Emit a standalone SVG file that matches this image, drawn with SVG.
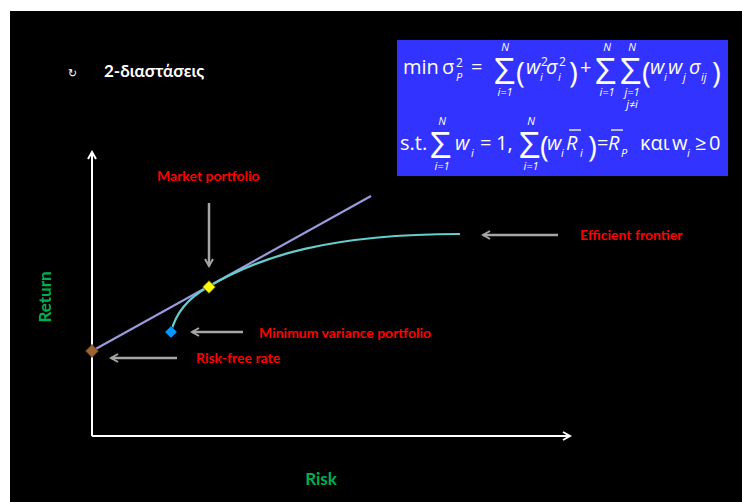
<svg xmlns="http://www.w3.org/2000/svg" width="742" height="502" viewBox="0 0 742 502">
<style>
.lbl{font-family:Lato,"Open Sans",sans-serif;font-weight:bold;font-size:14px;fill:#FF0000}
.ax{font-family:Lato,"Open Sans",sans-serif;font-weight:bold;font-size:17px;fill:#00B050}
.m{font-family:"Open Sans","Noto Sans",sans-serif;fill:#FFFFFF;font-size:20px}
.mi{font-family:"Open Sans","Noto Sans",sans-serif;fill:#FFFFFF;font-size:20px;font-style:italic}
.sub{font-family:"Open Sans","Noto Sans",sans-serif;fill:#FFFFFF;font-size:11px;font-style:italic}
.sup{font-family:"Open Sans","Noto Sans",sans-serif;fill:#FFFFFF;font-size:12px}
.big{font-family:"Open Sans","Noto Sans",sans-serif;fill:#FFFFFF;font-size:37px}
.par{font-family:"Open Sans","Noto Sans",sans-serif;fill:#FFFFFF;font-size:30px}
.lim{font-family:"Open Sans","Noto Sans",sans-serif;fill:#FFFFFF;font-size:11px;font-style:italic;text-anchor:middle}
.garr{stroke:#A6A6A6;stroke-width:2.5;fill:none;marker-end:url(#ga)}
</style>
<defs>
<marker id="ga" viewBox="0 0 10 10" refX="8" refY="5" markerWidth="4" markerHeight="4" orient="auto" markerUnits="strokeWidth">
<path d="M1,1 L8,5 L1,9" fill="none" stroke="#A6A6A6" stroke-width="2"/>
</marker>
<marker id="wa" viewBox="0 0 10 10" refX="8" refY="5" markerWidth="5" markerHeight="5" orient="auto" markerUnits="strokeWidth">
<path d="M1,1 L8,5 L1,9" fill="none" stroke="#FFFFFF" stroke-width="2"/>
</marker>
</defs>
<rect x="0" y="0" width="742" height="502" fill="#FFFFFF"/>
<rect x="10" y="11" width="732" height="491" fill="#000000"/>

<g id="title">
<text x="68" y="77" font-family="DejaVu Sans,sans-serif" font-size="11" fill="#FFFFFF">↻</text>
<text x="104" y="77" font-family="Lato,'Open Sans',sans-serif" font-weight="bold" font-size="17" fill="#FFFFFF">2-διαστάσεις</text>
</g>

<g id="formula">
<rect x="397" y="40" width="331" height="136" fill="#3333FF"/>
<text class="m" x="403" y="74">min</text>
<text class="m" x="442" y="74">σ</text>
<text class="sup" x="456" y="67">2</text>
<text class="sub" x="456" y="81">P</text>
<text class="m" x="471" y="74">=</text>
<text class="big" x="494" y="84">Σ</text>
<text class="lim" x="505" y="51">N</text>
<text class="lim" x="505" y="96">i=1</text>
<text class="par" x="516" y="83">(</text>
<text class="mi" x="526" y="74">w</text>
<text class="sup" x="541" y="66">2</text>
<text class="sub" x="540" y="81">i</text>
<text class="mi" x="546" y="74">σ</text>
<text class="sup" x="559" y="66">2</text>
<text class="sub" x="558" y="81">i</text>
<text class="par" x="569" y="83">)</text>
<text class="m" x="580" y="74">+</text>
<text class="big" x="595" y="84">Σ</text>
<text class="lim" x="607" y="51">N</text>
<text class="lim" x="607" y="96">i=1</text>
<text class="big" x="620" y="84">Σ</text>
<text class="lim" x="632" y="51">N</text>
<text class="lim" x="632" y="96">j=1</text>
<text class="lim" x="632" y="108">j≠i</text>
<text class="par" x="642" y="83">(</text>
<text class="mi" x="650" y="74">w</text>
<text class="sub" x="664" y="81">i</text>
<text class="mi" x="668" y="74">w</text>
<text class="sub" x="683" y="81">j</text>
<text class="mi" x="689" y="74">σ</text>
<text class="sub" x="701" y="81">ij</text>
<text class="par" x="712" y="83">)</text>

<text class="m" x="400" y="150">s.t.</text>
<text class="big" x="430" y="158">Σ</text>
<text class="lim" x="442" y="125">N</text>
<text class="lim" x="442" y="170">i=1</text>
<text class="mi" x="455" y="150">w</text>
<text class="sub" x="471" y="157">i</text>
<text class="m" x="480" y="150">=</text>
<text class="m" x="496" y="150">1,</text>
<text class="big" x="519" y="158">Σ</text>
<text class="lim" x="531" y="125">N</text>
<text class="lim" x="531" y="170">i=1</text>
<text class="par" x="540" y="157">(</text>
<text class="mi" x="547" y="150">w</text>
<text class="sub" x="561" y="157">i</text>
<text class="mi" x="566" y="150">R</text>
<line x1="569" y1="130" x2="581" y2="130" stroke="#FFFFFF" stroke-width="1.3"/>
<text class="sub" x="580" y="157">i</text>
<text class="par" x="588" y="157">)</text>
<text class="m" x="597" y="150">=</text>
<text class="mi" x="608" y="150">R</text>
<line x1="611" y1="130" x2="623" y2="130" stroke="#FFFFFF" stroke-width="1.3"/>
<text class="sub" x="621" y="157">P</text>
<text class="m" x="640" y="150" font-size="18">και</text>
<text class="m" x="672" y="150">w</text>
<text class="sub" x="687" y="157">i</text>
<text class="m" x="695" y="150">≥</text>
<text class="m" x="709" y="150">0</text>
</g>

<g id="connectors">
<line x1="92" y1="436" x2="92" y2="152" stroke="#FFFFFF" stroke-width="2" marker-end="url(#wa)"/>
<line x1="92" y1="436" x2="570" y2="436" stroke="#FFFFFF" stroke-width="2" marker-end="url(#wa)"/>
<line x1="92" y1="351" x2="371" y2="196" stroke="#9999DD" stroke-width="2.2"/>
<path d="M171,332 C176,312 190,297 208,287 C260,256 330,234 460,234" fill="none" stroke="#66CCCC" stroke-width="2.2"/>
<line class="garr" x1="209" y1="203" x2="209" y2="266"/>
<line class="garr" x1="243" y1="332" x2="192" y2="332"/>
<line class="garr" x1="177" y1="358" x2="111" y2="358"/>
<line class="garr" x1="558" y1="235" x2="483" y2="235"/>
</g>

<g id="riskfree">
<path d="M92,344.5 L98.5,351 L92,357.5 L85.5,351 Z" fill="#996633" stroke="#553311" stroke-width="0.8"/>
<text class="lbl" x="196" y="363">Risk-free rate</text>
</g>
<g id="market">
<path d="M209,280.5 L215.5,287 L209,293.5 L202.5,287 Z" fill="#FFFF00" stroke="#333300" stroke-width="0.8"/>
<text class="lbl" x="157" y="181">Market portfolio</text>
</g>
<g id="minvar">
<path d="M171,326 L177,332 L171,338 L165,332 Z" fill="#0099FF" stroke="#003366" stroke-width="0.8"/>
<text class="lbl" x="259" y="338">Minimum variance portfolio</text>
</g>
<g id="frontier">
<text class="lbl" x="580" y="240">Efficient frontier</text>
</g>
<g id="axes-labels">
<text class="ax" x="321" y="485" text-anchor="middle">Risk</text>
<text class="ax" x="0" y="0" text-anchor="middle" transform="translate(51,297) rotate(-90)">Return</text>
</g>
</svg>
